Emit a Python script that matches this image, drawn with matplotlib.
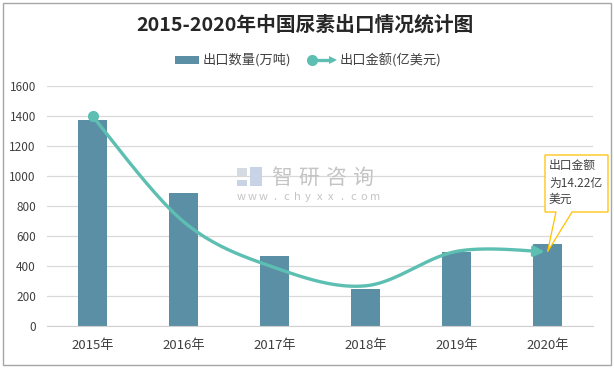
import numpy as np
import matplotlib
matplotlib.use("Agg")
import matplotlib.pyplot as plt
from matplotlib.patches import Rectangle, Polygon

plt.rcParams['font.family'] = ['Noto Sans CJK SC', 'DejaVu Sans']

years = ["2015年", "2016年", "2017年", "2018年", "2019年", "2020年"]
quantity = [1374, 887, 466, 245, 495, 546]          # 出口数量(万吨)
value = [40.2, 20.0, 11.2, 7.7, 14.3, 14.22]         # 出口金额(亿美元)
yticks = [0, 200, 400, 600, 800, 1000, 1200, 1400, 1600]

W, H = 614, 369
BAR = "#5b8fa6"
LINE = "#5dbfb2"

fig = plt.figure(figsize=(W / 100, H / 100), dpi=100)

def fx(px):
    return px / W

def fy(py):
    return 1 - py / H

# outer border
fig.add_artist(Rectangle((fx(2.5), fy(364.5)), fx(608), (362) / H, transform=fig.transFigure,
                         fill=False, edgecolor="#a6a6a6", lw=1.0))

ax = fig.add_axes([fx(47), fy(326), fx(593 - 47), (326 - 86) / H])
x = np.arange(len(years))
ax.bar(x, quantity, width=0.31, color=BAR, zorder=2)
ax.set_xlim(-0.5, len(years) - 0.5)
ax.set_ylim(0, 1600)
ax.set_yticks(yticks)
ax.set_xticks(x)
ax.set_xticklabels(years, fontsize=9.5, color="#404040")
ax.tick_params(axis="y", labelsize=8.5, colors="#404040", length=0, pad=8)
ax.tick_params(axis="x", length=0, pad=9)
ax.grid(axis="y", color="#d9d9d9", lw=0.9, zorder=0)
for s in ["top", "right", "left"]:
    ax.spines[s].set_visible(False)
ax.spines["bottom"].set_color("#d0d0d0")

ax2 = ax.twinx()
ax2.set_ylim(0, 46)
ax2.axis("off")

# Excel-like smooth curve, computed in pixel space
px_per_x = (593 - 47) / 6.0
px_per_y = 240.0 / 46
P = np.array([[xi * px_per_x, v * px_per_y] for xi, v in zip(x, value)])
pts = []
n = len(P)
for i in range(n - 1):
    p0 = P[i - 1] if i > 0 else P[i]
    p1 = P[i]
    p2 = P[i + 1]
    p3 = P[i + 2] if i + 2 < n else P[i + 1]
    c1 = p1 + (p2 - p0) / 6
    c2 = p2 - (p3 - p1) / 6
    t = np.linspace(0, 1, 40)[:, None]
    seg = (1 - t) ** 3 * p1 + 3 * (1 - t) ** 2 * t * c1 + 3 * (1 - t) * t ** 2 * c2 + t ** 3 * p2
    pts.append(seg if i == 0 else seg[1:])
curve = np.vstack(pts)
cx = curve[:, 0] / px_per_x
cy = curve[:, 1] / px_per_y
ax2.plot(cx[:-6], cy[:-6], color=LINE, lw=2.4, solid_capstyle="round", zorder=3)
ax2.annotate("", xy=(cx[-1], cy[-1]), xytext=(cx[-8], cy[-8]),
             arrowprops=dict(arrowstyle="-|>,head_length=0.6,head_width=0.3", color=LINE, lw=2.4),
             zorder=4)
ax2.plot([x[0]], [value[0]], "o", color=LINE, ms=7, zorder=4)

# title
fig.text(fx(305), fy(25), "2015-2020年中国尿素出口情况统计图", ha="center", va="center",
         fontsize=14.2, fontweight="bold", color="#262626")

# legend
fig.add_artist(Rectangle((fx(175), fy(64)), fx(24), 8 / H, transform=fig.transFigure,
                         facecolor=BAR, edgecolor="none"))
fig.text(fx(203), fy(60), "出口数量(万吨)", ha="left", va="center", fontsize=9.5, color="#404040")
fig.add_artist(plt.Line2D([fx(312), fx(331)], [fy(60), fy(60)], transform=fig.transFigure,
                          color=LINE, lw=2.4))
fig.add_artist(Polygon([[fx(329), fy(56)], [fx(337), fy(60)], [fx(329), fy(64)]],
                       closed=True, transform=fig.transFigure, facecolor=LINE, edgecolor="none"))
fig.add_artist(plt.Line2D([fx(312)], [fy(60)], transform=fig.transFigure, marker="o",
                          color=LINE, ms=7))
fig.text(fx(340), fy(60), "出口金额(亿美元)", ha="left", va="center", fontsize=9.5, color="#404040")

# watermark
fig.add_artist(Rectangle((fx(237), fy(186)), fx(10), 6 / H, transform=fig.transFigure,
                         facecolor="#c9d3e6", edgecolor="none"))
fig.add_artist(Rectangle((fx(237), fy(176)), fx(10), 8 / H, transform=fig.transFigure,
                         facecolor="#d6dbe3", edgecolor="none"))
fig.add_artist(Rectangle((fx(250), fy(186)), fx(12), 19 / H, transform=fig.transFigure,
                         facecolor="#c9d3e6", edgecolor="none"))
for i, ch in enumerate("智研咨询"):
    fig.text(fx(282 + 27 * i), fy(178), ch, ha="center", va="center", fontsize=15, color="#c4c4c4")
for i, ch in enumerate("www.chyxx.com"):
    fig.text(fx(241 + 11.2 * i), fy(197), ch, ha="center", va="center", fontsize=8, color="#c4c4c4")

# callout
tip = ax2.transData.transform((x[-1], value[-1]))
tipf = fig.transFigure.inverted().transform(tip)
poly = [[fx(545), fy(155)], [fx(608), fy(155)], [fx(608), fy(212)], [fx(572), fy(212)],
        [tipf[0], tipf[1]], [fx(556), fy(212)], [fx(545), fy(212)]]
fig.add_artist(Polygon(poly, closed=True, transform=fig.transFigure, facecolor="white",
                       edgecolor="#ffc000", lw=0.9, zorder=5))
for txt, yy in zip(["出口金额", "为14.22亿", "美元"], [165, 183, 199]):
    fig.text(fx(549), fy(yy), txt, ha="left", va="center", fontsize=8.5, color="#404040", zorder=6)

fig.savefig("out.png", dpi=100)
